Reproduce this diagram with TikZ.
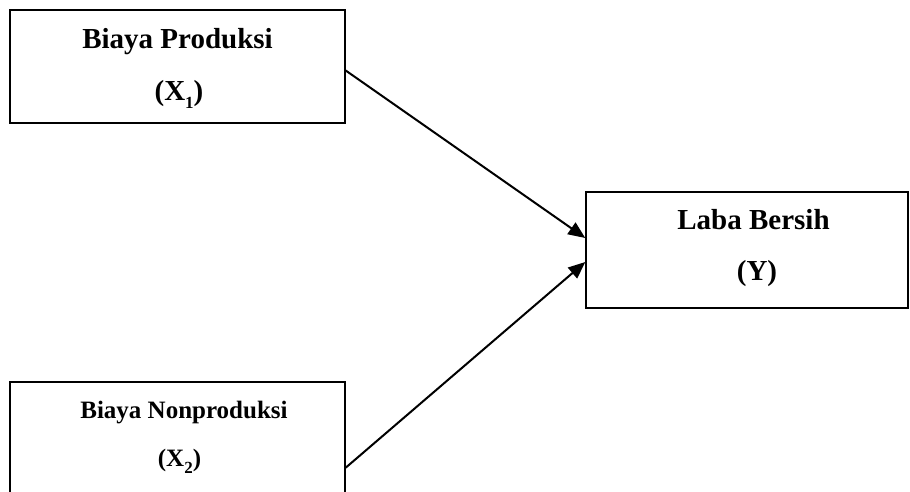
\documentclass[tikz,border=0pt]{standalone}
\usepackage{fontspec}
\setmainfont{Liberation Serif}
\usetikzlibrary{arrows.meta,calc}
\newcommand\subidx[1]{\raisebox{-0.28em}{\fontsize{17}{17}\selectfont #1}}
\begin{document}
\begin{tikzpicture}[x=1pt,y=-1pt,
  box/.style={draw=black,line width=1.4pt,rectangle,inner sep=0pt},
  big/.style={anchor=base,inner sep=0pt,font=\fontsize{29}{33}\selectfont\bfseries},
  small/.style={anchor=base,inner sep=0pt,font=\fontsize{25}{29}\selectfont\bfseries},
  link/.style={line width=2pt,-{Triangle[length=17pt,width=14pt]}}]
\clip (0,0) rectangle (910,491);
\fill[white] (0,0) rectangle (910,491);
\node[box,minimum width=335pt,minimum height=113pt] (b1) at (177.5,66.5) {};
\node[box,minimum width=335pt,minimum height=130pt] (b2) at (177.5,447) {};
\node[box,minimum width=322pt,minimum height=116pt] (b3) at (747,250) {};
\node[big] (t1) at (177.5,48) {Biaya Produksi};
\node[big] (t1b) at (179,100) {(X\subidx{1})};
\node[small] (t2) at (184,418) {Biaya Nonproduksi};
\node[small] (t2b) at (179.5,466) {(X\subidx{2})};
\node[big] (t3) at (753.5,229) {Laba Bersih};
\node[big] (t3b) at (757,280) {(Y)};
\coordinate (s1) at ($(b1.east)+(0,4)$);
\coordinate (s2) at ($(b2.south east)+(0,-45)$);
\coordinate (e1) at ($(b3.west)+(0,-12)$);
\coordinate (e2) at ($(b3.west)+(0,12)$);
\draw[link] (s1) -- (e1);
\draw[link] (s2) -- (e2);
\end{tikzpicture}
\end{document}
